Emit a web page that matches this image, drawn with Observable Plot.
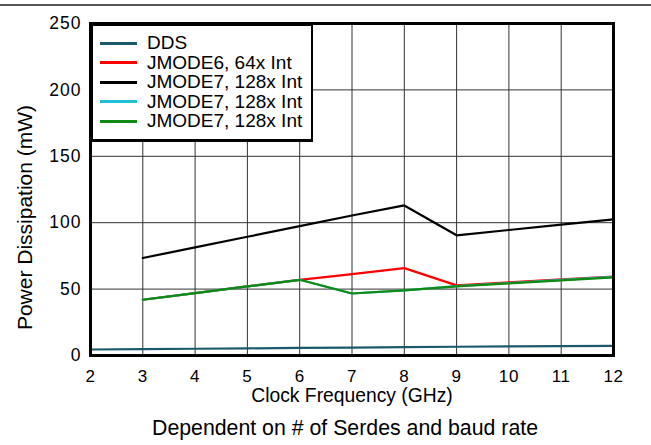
<!DOCTYPE html>
<html>
<head>
<meta charset="utf-8">
<script src="https://cdn.jsdelivr.net/npm/d3@7"></script>
<script src="https://cdn.jsdelivr.net/npm/@observablehq/plot@0.6"></script>
<style>
  html, body { margin: 0; padding: 0; background: white; }
  #wrap { position: relative; width: 651px; height: 445px; font-family: "Liberation Sans", Arial, sans-serif; }
  #topline { position: absolute; left: 0; top: 4px; width: 651px; height: 2px; background: #555; }
  #legend { position: absolute; left: 90px; top: 23px; width: 223px; height: 119px; background: white; border: 2px solid black; border-width: 3px 2px 3px 3px; box-sizing: border-box; }
  .item { position: absolute; left: 7px; height: 20px; display: flex; align-items: center; font-size: 19px; color: black; white-space: nowrap; }
  .sw { width: 37px; height: 3px; margin-right: 10px; }
  g[aria-label="y-axis tick label"] text { letter-spacing: 1px; }
  g[aria-label="x-axis tick label"] text { letter-spacing: 0.6px; }
</style>
</head>
<body>
<div id="wrap">
  <div id="topline"></div>
  <div id="chart"></div>
  <div id="legend"></div>
</div>
<script>
// ---- data ----
const xTicks = [2, 3, 4, 5, 6, 7, 8, 9, 10, 11, 12];
const yTicks = [0, 50, 100, 150, 200, 250];

const ddsX = [2, 3, 4, 5, 6, 7, 8, 9, 10, 11, 12];
const ddsY = [4.5, 4.8, 5.1, 5.4, 5.7, 6.0, 6.3, 6.6, 6.8, 7.0, 7.3];

const modeX = [3, 4, 5, 6, 7, 8, 9, 10, 11, 12];
const jmode6Y = [42, 47, 52, 57, 61.3, 65.8, 52.8, 55, 57.3, 59.5];
const jmode7aY = [73.4, 81.4, 89.4, 97.4, 105.4, 113, 90.5, 94.5, 98.5, 102.5];
const jmode7bY = [42, 47, 52, 57, 46.7, 49, 52.3, 54.6, 56.9, 59.2];
const jmode7cY = [42, 47, 52, 57, 46.7, 49, 52, 54.3, 56.5, 58.8];

const seriesNames = ["DDS", "JMODE6, 64x Int", "JMODE7, 128x Int", "JMODE7, 128x Int", "JMODE7, 128x Int"];
const seriesColors = ["#1a5a6c", "#ff0000", "#000000", "#1ec0d6", "#118a11"];

const xLabel = "Clock Frequency (GHz)";
const yLabel = "Power Dissipation (mW)";
const caption = "Dependent on # of Serdes and baud rate";

// ---- build ----
const toRows = (xs, ys) => xs.map((x, i) => ({x, y: ys[i]}));
const series = [
  toRows(ddsX, ddsY),
  toRows(modeX, jmode6Y),
  toRows(modeX, jmode7aY),
  toRows(modeX, jmode7bY),
  toRows(modeX, jmode7cY)
];
const drawOrder = [0, 1, 2, 3, 4];

const chart = Plot.plot({
  width: 651,
  height: 445,
  marginLeft: 90,
  marginRight: 38,
  marginTop: 23,
  marginBottom: 90,
  style: {fontFamily: "Liberation Sans, Arial, sans-serif", fontSize: "17px", color: "black", background: "white"},
  x: {domain: [2, 12]},
  y: {domain: [0, 250]},
  marks: [
    Plot.ruleX(xTicks, {stroke: "#333", strokeWidth: 1}),
    Plot.ruleY(yTicks, {stroke: "#333", strokeWidth: 1}),
    ...drawOrder.map(i => Plot.line(series[i], {x: "x", y: "y", stroke: seriesColors[i], strokeWidth: 2.2})),
    Plot.frame({stroke: "black", strokeWidth: 3}),
    Plot.axisX({ticks: xTicks, tickSize: 0, tickPadding: 14, fontSize: 17, label: null, tickFormat: d => String(d)}),
    Plot.axisY({ticks: yTicks, tickSize: 0, tickPadding: 9, fontSize: 17.5, label: null, tickFormat: d => String(d)}),
    Plot.text([xLabel], {frameAnchor: "bottom", lineAnchor: "middle", textAnchor: "middle", dy: 40, fontSize: 19.3, text: d => d}),
    Plot.text([caption], {frameAnchor: "bottom", lineAnchor: "middle", textAnchor: "middle", dy: 73, dx: -7, fontSize: 21.3, text: d => d}),
    Plot.text([yLabel], {frameAnchor: "left", lineAnchor: "middle", textAnchor: "middle", dx: -65, dy: 28, rotate: -90, fontSize: 21, text: d => d})
  ]
});
document.getElementById("chart").appendChild(chart);

// legend
const legend = document.getElementById("legend");
seriesNames.forEach((name, i) => {
  const item = document.createElement("div");
  item.className = "item";
  item.style.top = (7 + i * 19.5) + "px";
  const sw = document.createElement("span");
  sw.className = "sw";
  sw.style.background = seriesColors[i];
  const t = document.createElement("span");
  t.textContent = name;
  item.appendChild(sw);
  item.appendChild(t);
  legend.appendChild(item);
});
</script>
</body>
</html>
